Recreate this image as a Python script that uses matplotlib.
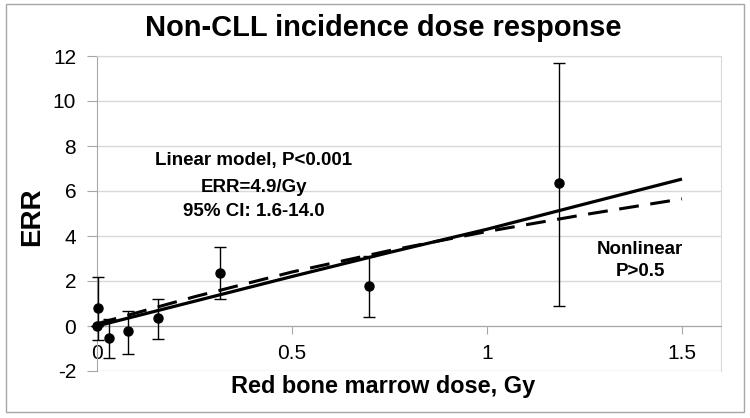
import numpy as np
import matplotlib
matplotlib.use('Agg')
import matplotlib.pyplot as plt
from matplotlib.patches import Rectangle

plt.rcParams['font.family'] = ['Liberation Sans', 'DejaVu Sans']
plt.rcParams['axes.unicode_minus'] = False

# 数据点 (剂量, ERR, 置信区间)
dose = [0.0, 0.003, 0.03, 0.08, 0.157, 0.315, 0.697, 1.185]
err = [0.0, 0.8, -0.53, -0.22, 0.36, 2.35, 1.8, 6.35]
err_lo = [0.0, -0.6, -1.4, -1.24, -0.58, 1.2, 0.4, 0.9]
err_hi = [0.0, 2.2, 0.3, 0.67, 1.2, 3.5, 3.1, 11.7]

# 拟合曲线
fit_dose = [0.0, 0.25, 0.5, 0.75, 1.0, 1.25, 1.5]
linear_fit = [0.0, 1.1, 2.2, 3.27, 4.3, 5.42, 6.53]
nonlinear_fit = [0.1, 1.3, 2.4, 3.35, 4.2, 4.95, 5.65]

W, H = 750, 418
fig = plt.figure(figsize=(7.5, 4.18), dpi=100)
ax = fig.add_axes([97 / W, 1 - 371 / H, (721 - 97) / W, (371 - 56) / H])

ax.plot(fit_dose, linear_fit, color='black', lw=2.3, solid_capstyle='butt')
ax.plot(fit_dose, nonlinear_fit, color='black', lw=2.2, dashes=(6.5, 3.8))

d = np.array(err)
yerr = [d - np.array(err_lo), np.array(err_hi) - d]
ax.errorbar(dose, err, yerr=yerr, fmt='o', color='black', ms=6.5,
            elinewidth=1, capsize=4.5, capthick=1, clip_on=False, zorder=3)

ax.set_xlim(0, 1.6)
ax.set_ylim(-2, 12)
ax.set_xticks([0, 0.5, 1, 1.5])
ax.set_xticklabels(['0', '0.5', '1', '1.5'])
ax.set_yticks(range(-2, 13, 2))
ax.yaxis.grid(True, color='#d9d9d9', lw=1)
ax.set_axisbelow(True)

ax.spines['bottom'].set_position(('data', 0))
ax.spines['bottom'].set_color('#a6a6a6')
ax.spines['left'].set_color('#a6a6a6')
ax.spines['top'].set_color('#d9d9d9')
ax.spines['right'].set_color('#d9d9d9')
ax.tick_params(axis='y', direction='out', length=7, color='#a6a6a6', labelsize=15, pad=8)
ax.tick_params(axis='x', direction='out', length=6, color='#a6a6a6', labelsize=15, pad=7)

fig.text(383 / W, 1 - 28 / H, 'Non-CLL incidence dose response', ha='center', va='center',
         fontsize=20.9, fontweight='bold')
fig.text(383 / W, 1 - 387 / H, 'Red bone marrow dose, Gy', ha='center', va='center',
         fontsize=16.9, fontweight='bold')
fig.text(32 / W, 1 - 217 / H, 'ERR', ha='center', va='center', rotation=90,
         fontsize=20, fontweight='bold')

for txt, y in [('Linear model, P<0.001', 160), ('ERR=4.9/Gy', 187), ('95% CI: 1.6-14.0', 212)]:
    fig.text(254 / W, 1 - y / H, txt, ha='center', va='center', fontsize=13.5, fontweight='bold')
for txt, y in [('Nonlinear', 249), ('P>0.5', 272)]:
    fig.text(640 / W, 1 - y / H, txt, ha='center', va='center', fontsize=13.5, fontweight='bold')

fig.patches.append(Rectangle((6 / W, 6 / H), 738 / W, 408 / H, transform=fig.transFigure,
                             fill=False, edgecolor='#a6a6a6', lw=1))

plt.savefig('out.png', dpi=100)
